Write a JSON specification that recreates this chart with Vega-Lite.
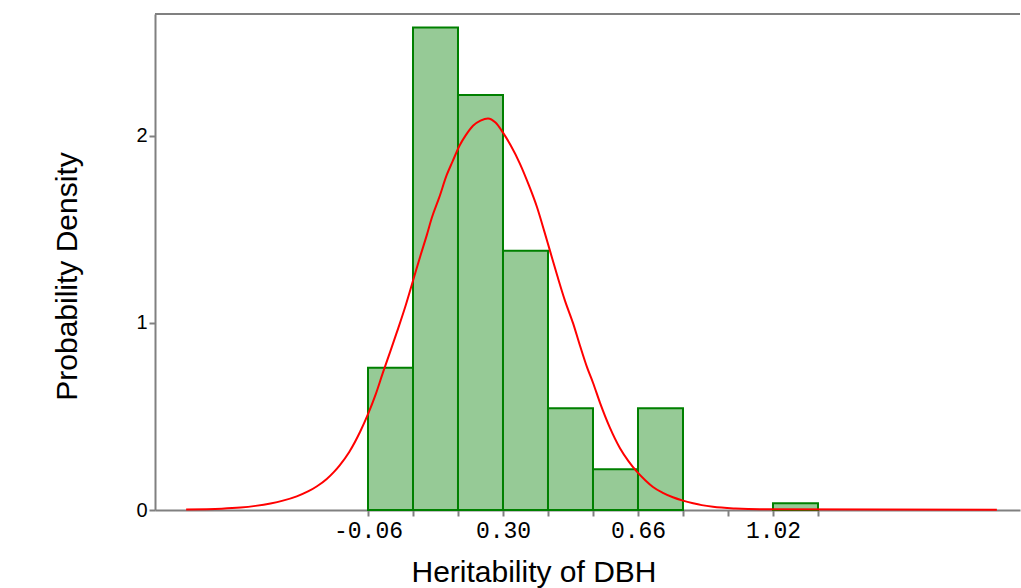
{
  "$schema": "https://vega.github.io/schema/vega-lite/v6.json",
  "width": 865,
  "height": 496,
  "autosize": {"type": "none"},
  "padding": {"left": 155, "top": 14, "right": 1, "bottom": 78},
  "background": "white",
  "config": {"view": {"stroke": null}},
  "layer": [
    {
      "data": {"values": [
        {"start": -0.06, "end": 0.06, "density": 0.76},
        {"start": 0.06, "end": 0.18, "density": 2.578},
        {"start": 0.18, "end": 0.30, "density": 2.217},
        {"start": 0.30, "end": 0.42, "density": 1.385},
        {"start": 0.42, "end": 0.54, "density": 0.543},
        {"start": 0.54, "end": 0.66, "density": 0.218},
        {"start": 0.66, "end": 0.78, "density": 0.543},
        {"start": 1.02, "end": 1.14, "density": 0.036}
      ]},
      "mark": {"type": "rect", "fill": "#96ca96", "stroke": "#008000", "strokeWidth": 2},
      "encoding": {
        "x": {
          "field": "start", "type": "quantitative",
          "scale": {"domain": [-0.628, 1.6787], "nice": false, "zero": false},
          "axis": {
            "title": "Heritability of DBH",
            "values": [-0.06, 0.06, 0.18, 0.30, 0.42, 0.54, 0.66, 0.78, 0.90, 1.02, 1.14],
            "labelExpr": "abs(datum.value+0.06)<0.001 ? '-0.06' : abs(datum.value-0.30)<0.001 ? '0.30' : abs(datum.value-0.66)<0.001 ? '0.66' : abs(datum.value-1.02)<0.001 ? '1.02' : ''",
            "grid": false,
            "domainColor": "#808080", "domainWidth": 2,
            "tickColor": "#808080", "tickWidth": 2, "tickSize": 6,
            "labelFont": "Liberation Mono", "labelFontSize": 23, "labelColor": "black",
            "labelPadding": 3, "labelFlush": false, "labelOverlap": false,
            "titleFont": "Liberation Sans", "titleFontSize": 30, "titleFontWeight": "normal", "titleColor": "black",
            "titleX": 378.5, "titleY": 71, "titleBaseline": "alphabetic", "titleAlign": "center"
          }
        },
        "x2": {"field": "end"},
        "y": {
          "field": "density", "type": "quantitative",
          "scale": {"domain": [0, 2.65], "nice": false},
          "axis": {
            "title": "Probability Density",
            "values": [0, 1, 2],
            "format": "d",
            "grid": false,
            "domainColor": "#808080", "domainWidth": 2,
            "tickColor": "#808080", "tickWidth": 2, "tickSize": 6,
            "labelFont": "Liberation Sans", "labelFontSize": 20, "labelColor": "black", "labelPadding": 2,
            "titleFont": "Liberation Sans", "titleFontSize": 30, "titleFontWeight": "normal", "titleColor": "black",
            "titleAngle": -90, "titleX": -79, "titleY": 262, "titleBaseline": "alphabetic", "titleAlign": "center"
          }
        },
        "y2": {"datum": 0}
      }
    },
    {
      "data": {"values": [
        {"x": -0.545, "d": 0.003},
        {"x": -0.45, "d": 0.007},
        {"x": -0.40, "d": 0.013},
        {"x": -0.36, "d": 0.022},
        {"x": -0.32, "d": 0.035},
        {"x": -0.287, "d": 0.05},
        {"x": -0.25, "d": 0.073},
        {"x": -0.22, "d": 0.099},
        {"x": -0.196, "d": 0.127},
        {"x": -0.17, "d": 0.166},
        {"x": -0.15, "d": 0.205},
        {"x": -0.135, "d": 0.24},
        {"x": -0.11, "d": 0.31},
        {"x": -0.081, "d": 0.418},
        {"x": -0.06, "d": 0.512},
        {"x": -0.04, "d": 0.615},
        {"x": -0.02, "d": 0.735},
        {"x": 0.0, "d": 0.85},
        {"x": 0.017, "d": 0.95},
        {"x": 0.04, "d": 1.09},
        {"x": 0.06, "d": 1.225},
        {"x": 0.08, "d": 1.36},
        {"x": 0.097, "d": 1.47},
        {"x": 0.11, "d": 1.56},
        {"x": 0.13, "d": 1.67},
        {"x": 0.15, "d": 1.79},
        {"x": 0.165, "d": 1.86},
        {"x": 0.185, "d": 1.95},
        {"x": 0.20, "d": 2.0},
        {"x": 0.22, "d": 2.053},
        {"x": 0.24, "d": 2.08},
        {"x": 0.26, "d": 2.092},
        {"x": 0.28, "d": 2.07},
        {"x": 0.30, "d": 2.016},
        {"x": 0.32, "d": 1.95},
        {"x": 0.345, "d": 1.851},
        {"x": 0.37, "d": 1.73},
        {"x": 0.391, "d": 1.616},
        {"x": 0.41, "d": 1.49},
        {"x": 0.425, "d": 1.387},
        {"x": 0.445, "d": 1.25},
        {"x": 0.465, "d": 1.12},
        {"x": 0.487, "d": 0.997},
        {"x": 0.505, "d": 0.88},
        {"x": 0.524, "d": 0.763},
        {"x": 0.54, "d": 0.68},
        {"x": 0.559, "d": 0.571},
        {"x": 0.585, "d": 0.44},
        {"x": 0.612, "d": 0.33},
        {"x": 0.635, "d": 0.26},
        {"x": 0.657, "d": 0.205},
        {"x": 0.68, "d": 0.158},
        {"x": 0.70, "d": 0.123},
        {"x": 0.725, "d": 0.093},
        {"x": 0.753, "d": 0.068},
        {"x": 0.78, "d": 0.05},
        {"x": 0.807, "d": 0.036},
        {"x": 0.83, "d": 0.026},
        {"x": 0.86, "d": 0.017},
        {"x": 0.92, "d": 0.008},
        {"x": 0.985, "d": 0.004},
        {"x": 1.617, "d": 0.002}
      ]},
      "mark": {"type": "line", "color": "#ff0000", "strokeWidth": 2, "interpolate": "monotone"},
      "encoding": {
        "x": {"field": "x", "type": "quantitative"},
        "y": {"field": "d", "type": "quantitative"}
      }
    },
    {
      "data": {"values": [{}]},
      "mark": {"type": "rule", "color": "#808080", "strokeWidth": 2},
      "encoding": {"y": {"datum": 2.65, "type": "quantitative"}}
    }
  ]
}
